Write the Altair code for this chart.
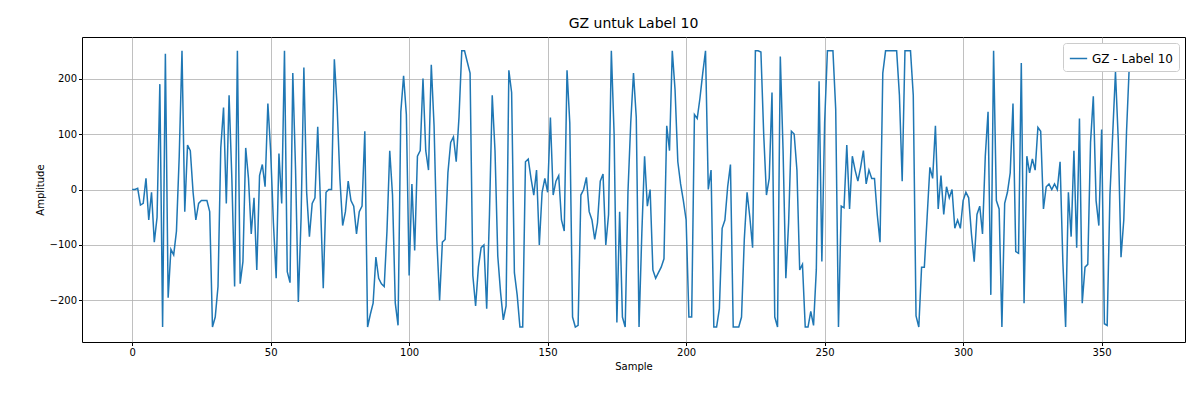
import altair as alt
import pandas as pd

# GZ values for Label 10
gz = [0, 0, 2, -28, -25, 20, -55, -5, -95, -50, 190, -248, 245, -195, -108, -118, -75, 60, 250, -40,
      80, 70, -5, -55, -25, -20, -20, -20, -40, -248, -230, -175, 75, 148, -25, 170, 20, -175, 250, -170,
      -130, 75, 20, -80, -15, -145, 25, 45, 5, 155, 70, -60, -160, 65, -25, 250, -148, -168, 210, 35,
      -203, -50, 220, -5, -85, -25, -15, 113, -25, -178, -5, 0, 0, 235, 150, 20, -65, -40, 15, -20,
      -30, -80, -40, -30, 105, -248, -225, -205, -122, -160, -170, -175, -75, 70, -10, -205, -245, 140, 205, 135,
      -155, 10, -110, 60, 70, 200, 70, 35, 225, 115, -90, -200, -95, -90, 30, 85, 95, 50, 130, 250,
      250, 230, 210, -155, -210, -140, -105, -100, -215, -45, 170, 70, -120, -185, -235, -210, 215, 175, -150, -190,
      -248, -248, 50, 55, 20, -10, 35, -100, -5, 20, -5, 130, -10, 15, 25, -55, -75, 215, 120, -230,
      -248, -245, -10, 0, 22, -40, -55, -90, -60, 15, 28, -100, -45, 250, 100, -240, -40, -230, -248, -5,
      120, 210, 130, -248, -80, 60, -30, 0, -145, -160, -150, -140, -125, 115, 70, 250, 180, 50, 10, -20,
      -55, -230, -230, 135, 128, 165, 210, 250, 0, 35, -248, -248, -215, -70, -55, 5, 45, -248, -248, -248,
      -230, -90, -5, -50, -105, 250, 250, 248, 100, -10, 20, 175, -230, -248, 240, 70, -160, -60, 105, 100,
      35, -145, -135, -248, -248, -220, -245, -145, 195, -130, 120, 250, 250, 250, 145, -248, -30, -33, 80, -35,
      60, 35, 15, 40, 70, 10, 35, 20, 20, -45, -95, 210, 250, 250, 250, 250, 250, 170, 15, 250,
      250, 250, 170, -228, -248, -140, -140, -50, 40, 20, 115, -35, 25, -45, 5, -15, 0, -70, -55, -70,
      -20, -5, -15, -80, -130, -45, -30, -80, 60, 140, -190, 250, -20, -35, -248, -25, -5, 30, 155, -112,
      -115, 228, -205, 60, 30, 55, 35, 112, 105, -35, 5, 10, 0, 10, 0, 50, -130, -248, -5, -85,
      70, -105, 128, -205, -140, -135, 85, 168, -20, -65, 108, -242, -245, -10, 100, 212, 90, -122, -55, 105,
      225, 250, 250]

df = pd.DataFrame({'Sample': list(range(len(gz))), 'GZ': gz, 'series': 'GZ - Label 10'})

n = len(gz) - 1
pad = 0.05 * n

chart = alt.Chart(df).mark_line(strokeWidth=1.5, clip=True).encode(
    x=alt.X('Sample:Q', scale=alt.Scale(domain=[-pad, n + pad], nice=False, zero=False),
            axis=alt.Axis(values=[0, 50, 100, 150, 200, 250, 300, 350], title='Sample')),
    y=alt.Y('GZ:Q', scale=alt.Scale(domain=[-275, 275], nice=False),
            axis=alt.Axis(values=[-200, -100, 0, 100, 200], title='Amplitude')),
    color=alt.Color('series:N', scale=alt.Scale(range=['#1f77b4']),
                    legend=alt.Legend(title=None, orient='top-right', symbolType='stroke',
                                      symbolStrokeWidth=1.5, labelFontSize=12, fillColor='white',
                                      strokeColor='#cccccc', padding=6, cornerRadius=3,
                                      offset=6, symbolSize=300)),
).properties(
    width=1103, height=305,
    title=alt.Title('GZ untuk Label 10', fontSize=14, fontWeight='normal', offset=6),
    padding={'left': 74, 'top': 29, 'right': 7, 'bottom': 40},
    autosize=alt.AutoSizeParams(type='none'),
).configure(font='DejaVu Sans').configure_axis(
    grid=True, gridColor='#b0b0b0', gridWidth=0.8, domain=False, tickColor='black',
    labelColor='black', labelFontSize=10, titleFontSize=10, titleFontWeight='normal',
    titleColor='black', tickSize=3.5,
).configure_view(stroke='black', strokeWidth=1)

chart.save("out.html", embed_options={"renderer": "svg", "actions": False})
